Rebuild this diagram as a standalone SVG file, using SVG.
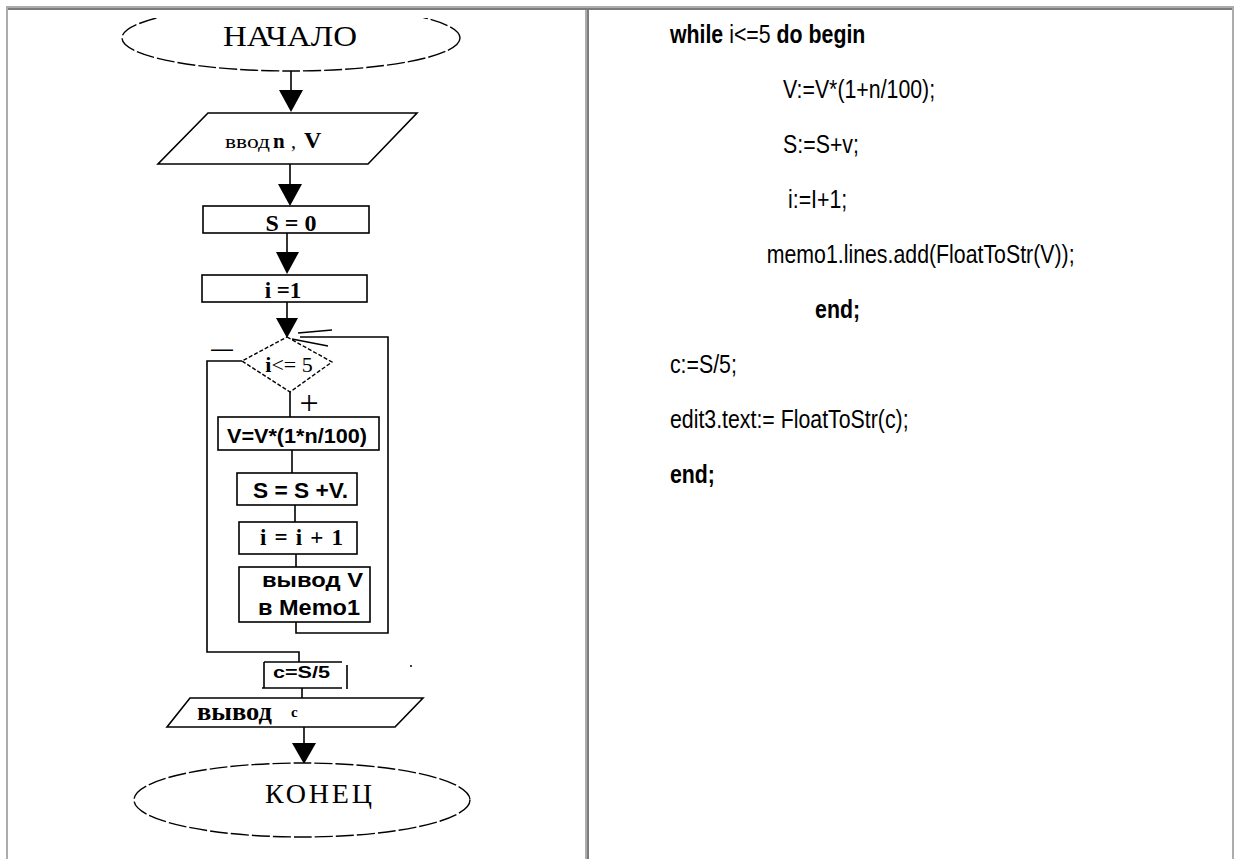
<svg xmlns="http://www.w3.org/2000/svg" width="1234" height="859" viewBox="0 0 1234 859">
<style>
.ln{fill:none;stroke:#000;stroke-width:1.6}
.bx{fill:#fff;stroke:#000;stroke-width:1.6}
.dsh{fill:#fff;stroke:#000;stroke-width:1.4;stroke-dasharray:4 2}
.ell{fill:#fff;stroke:#000;stroke-width:1.4;stroke-dasharray:18 3}
.ah{fill:#000}
.serif{font-family:"Liberation Serif","Times New Roman",serif;fill:#000}
.sans{font-family:"Liberation Sans",Arial,sans-serif;fill:#000}
.code{font-family:"Liberation Sans",Arial,sans-serif;font-size:26px;fill:#000}
.b{font-weight:bold}
.lt{fill:#adadad}
.dk{fill:#7c7c7c}
</style>
<defs>
<clipPath id="topclip"><rect x="0" y="18" width="600" height="100"/></clipPath>
</defs>
<rect width="1234" height="859" fill="#fff"/>
<g id="table">
<rect class="lt" x="6" y="6" width="1228" height="2"/>
<rect class="dk" x="8" y="8" width="1224" height="2"/>
<rect class="lt" x="6" y="6" width="2" height="853"/>
<rect class="lt" x="585" y="10" width="2" height="849"/>
<rect class="dk" x="587" y="10" width="2" height="849"/>
<rect class="lt" x="1232" y="8" width="2" height="851"/>
</g>
<g id="connectors">
<line class="ln" x1="291" y1="70" x2="291" y2="92"/>
<polygon class="ah" points="279,90 303,90 291,112"/>
<line class="ln" x1="290" y1="164" x2="290" y2="186"/>
<polygon class="ah" points="278,184 302,184 290,206"/>
<line class="ln" x1="287" y1="233" x2="287" y2="254"/>
<polygon class="ah" points="276,252 299,252 287,274"/>
<line class="ln" x1="287" y1="302" x2="287" y2="320"/>
<polygon class="ah" points="276,318 298,318 287,338"/>
<line class="ln" x1="290" y1="392" x2="290" y2="417"/>
<line class="ln" x1="292" y1="450" x2="292" y2="473"/>
<line class="ln" x1="295" y1="505" x2="295" y2="522"/>
<line class="ln" x1="296" y1="554" x2="296" y2="567"/>
<polyline class="ln" points="296,622 296,633 388,633 388,337 300,337"/>
<line class="ln" x1="298" y1="333" x2="332" y2="330"/>
<line class="ln" x1="292" y1="339" x2="328" y2="346"/>
<polyline class="ln" points="242,361 207,361 207,652 299,652 299,662"/>
<line class="ln" x1="302" y1="688" x2="302" y2="698"/>
<line class="ln" x1="304" y1="727" x2="304" y2="745"/>
<polygon class="ah" points="292,743 316,743 304,764"/>
<text class="serif" x="309" y="414" font-size="34" text-anchor="middle">+</text>
<text class="sans" x="211" y="356" font-size="22">—</text>
</g>
<g id="start">
<ellipse class="ell" cx="291" cy="38" rx="169" ry="33" clip-path="url(#topclip)"/>
<text class="serif" x="290" y="46" font-size="30" text-anchor="middle" textLength="134" lengthAdjust="spacingAndGlyphs">НАЧАЛО</text>
</g>
<g id="input">
<polygon class="bx" points="208,113 417,113 368,164 158,164"/>
<text class="serif" y="148"><tspan x="225" font-size="18" textLength="45" lengthAdjust="spacingAndGlyphs">ввод</tspan><tspan x="273" font-size="21" class="b">n</tspan><tspan x="291" font-size="20">,</tspan><tspan x="304" font-size="24" class="b">V</tspan></text>
</g>
<g id="s0">
<rect class="bx" x="203" y="206" width="166" height="27"/>
<text class="serif b" x="291" y="231" font-size="24" text-anchor="middle">S = 0</text>
</g>
<g id="i1">
<rect class="bx" x="202" y="275" width="165" height="27"/>
<text class="serif b" x="283" y="298" font-size="23" text-anchor="middle">i =1</text>
</g>
<g id="cond">
<polygon class="dsh" points="287,337 332,362 290,392 242,361"/>
<text class="serif" x="289" y="372" font-size="22" text-anchor="middle"><tspan class="b">i</tspan>&lt;= 5</text>
</g>
<g id="calcV">
<rect class="bx" x="218" y="417" width="161" height="33"/>
<text class="sans b" x="227" y="443" font-size="21" textLength="140" lengthAdjust="spacingAndGlyphs">V=V*(1*n/100)</text>
</g>
<g id="sumS">
<rect class="bx" x="237" y="473" width="120" height="32"/>
<text class="sans b" x="253" y="498" font-size="22" textLength="95" lengthAdjust="spacingAndGlyphs">S = S +V.</text>
</g>
<g id="inc">
<rect class="bx" x="239" y="522" width="118" height="32"/>
<text class="serif b" x="260" y="545" font-size="23" textLength="83" lengthAdjust="spacing">i = i + 1</text>
</g>
<g id="outV">
<rect class="bx" x="239" y="567" width="131" height="55"/>
<text class="sans b" x="262" y="587" font-size="21" textLength="101" lengthAdjust="spacingAndGlyphs">вывод  V</text>
<text class="sans b" x="258" y="615" font-size="22" textLength="102" lengthAdjust="spacingAndGlyphs">в Memo1</text>
</g>
<g id="avg">
<rect x="264" y="662" width="78" height="26" fill="#fff"/>
<path class="ln" d="M264,662 H342 M264,662 V688 M262,688 H342 M347,665 V689"/>
<text class="sans b" x="273" y="678" font-size="17" textLength="57" lengthAdjust="spacingAndGlyphs">c=S/5</text>
<circle cx="411" cy="666" r="1" fill="#000"/>
</g>
<g id="outC">
<polygon class="bx" points="190,698 423,698 395,727 167,727"/>
<text class="serif b" x="197" y="720" font-size="25" textLength="75" lengthAdjust="spacingAndGlyphs">вывод</text>
<text class="serif b" x="291" y="717" font-size="15">c</text>
</g>
<g id="end">
<ellipse class="ell" cx="302" cy="800" rx="168" ry="37"/>
<text class="serif" x="265" y="803" font-size="28" textLength="107" lengthAdjust="spacing">КОНЕЦ</text>
</g>
<g id="code" transform="scale(0.82 1)">
<text class="code" x="817" y="43"><tspan class="b">while</tspan> i&lt;=5 <tspan class="b">do begin</tspan></text>
<text class="code" x="955" y="98">V:=V*(1+n/100);</text>
<text class="code" x="955" y="153">S:=S+v;</text>
<text class="code" x="961" y="208">i:=I+1;</text>
<text class="code" x="935" y="263">memo1.lines.add(FloatToStr(V));</text>
<text class="code b" x="994" y="318">end;</text>
<text class="code" x="817" y="373">c:=S/5;</text>
<text class="code" x="817" y="428">edit3.text:= FloatToStr(c);</text>
<text class="code b" x="817" y="483">end;</text>
</g>
</svg>
